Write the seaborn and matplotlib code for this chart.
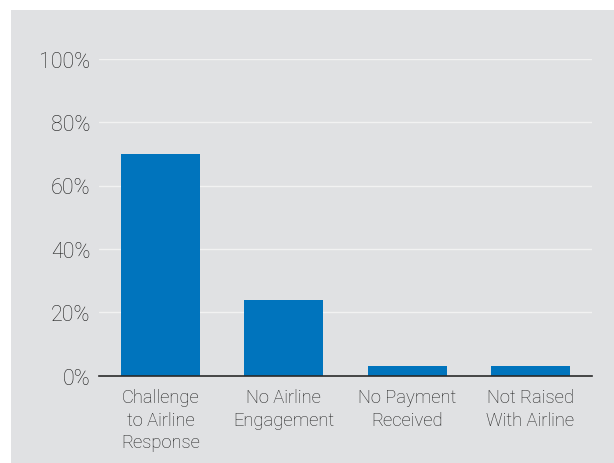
import matplotlib
matplotlib.use("Agg")
import matplotlib.pyplot as plt
from matplotlib.patches import Rectangle
import pandas as pd
import seaborn as sns

# data
categories = ["Challenge\nto Airline\nResponse", "No Airline\nEngagement",
              "No Payment\nReceived", "Not Raised\nWith Airline"]
shares = [70, 24, 3, 3]
y_ticks = [0, 20, 40, 60, 80, 100]
y_tick_labels = ["0%", "20%", "40%", "60%", "80%", "100%"]

bg = "#e0e1e3"
bar_blue = "#0074bd"
text_col = "#1e1e1e"

sns.set_style("white", {"axes.facecolor": bg})
plt.rcParams["font.family"] = ["Roboto", "DejaVu Sans"]

df = pd.DataFrame({"category": categories, "share": shares})

fig = plt.figure(figsize=(6.14, 4.64), dpi=100, facecolor="white")
# grey panel with a thin white border on top and left
fig.patches.append(Rectangle((11 / 614, 0), 1, 1 - 11 / 464, transform=fig.transFigure,
                             facecolor=bg, edgecolor="none", zorder=-1))
ax = fig.add_axes([99 / 614, 1 - 376.7 / 464, (592 - 99) / 614, (376.7 - 59.7) / 464])

sns.barplot(data=df, x="category", y="share", color=bar_blue, width=0.64,
            saturation=1, linewidth=0, ax=ax, zorder=3)

ax.set_xlim(-0.5, 3.5)
ax.set_ylim(0, 100)
ax.set_yticks(y_ticks)
ax.set_yticklabels(y_tick_labels)
ax.yaxis.grid(True, color="#f2f2f2", linewidth=1.0, zorder=0)
ax.set_axisbelow(True)
ax.set_xlabel("")
ax.set_ylabel("")

for s in ["top", "right", "left"]:
    ax.spines[s].set_visible(False)
ax.spines["bottom"].set_color("#2a2a2a")
ax.spines["bottom"].set_linewidth(1.2)
ax.spines["bottom"].set_zorder(4)

ax.tick_params(axis="both", length=0, colors=text_col)
ax.tick_params(axis="y", pad=6, labelsize=15.5)
ax.tick_params(axis="x", pad=9, labelsize=13.2)
for lab in ax.get_xticklabels():
    lab.set_linespacing(1.32)
    lab.set_fontweight("light")
for lab in ax.get_yticklabels():
    lab.set_fontweight("light")

fig.savefig("out.png", dpi=100, facecolor=fig.get_facecolor())
